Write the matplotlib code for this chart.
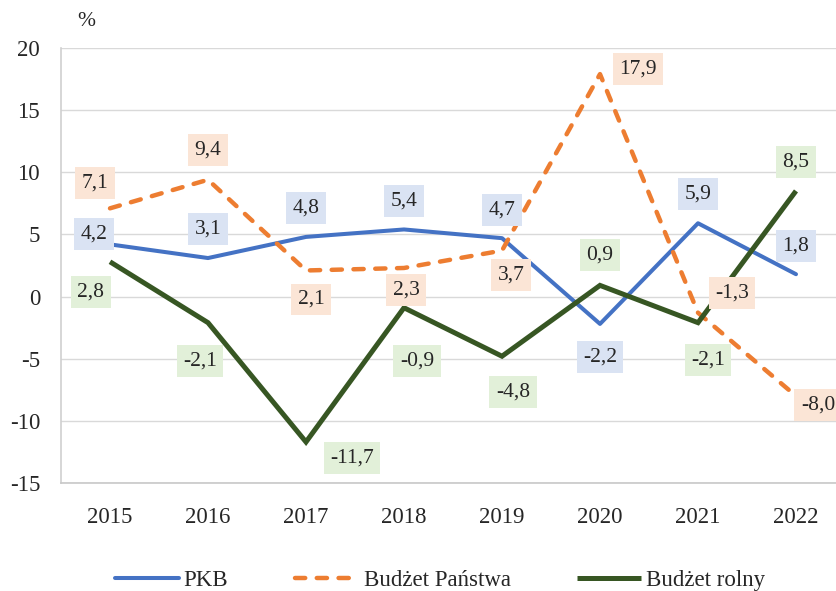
import matplotlib
matplotlib.use("Agg")
import matplotlib.pyplot as plt
from matplotlib.ticker import FuncFormatter

years = ["2015", "2016", "2017", "2018", "2019", "2020", "2021", "2022"]
pkb = [4.2, 3.1, 4.8, 5.4, 4.7, -2.2, 5.9, 1.8]
budzet_panstwa = [7.1, 9.4, 2.1, 2.3, 3.7, 17.9, -1.3, -8.0]
budzet_rolny = [2.8, -2.1, -11.7, -0.9, -4.8, 0.9, -2.1, 8.5]
series_names = ["PKB", "Budżet Państwa", "Budżet rolny"]

# label offsets in pixels (dx right, dy down)
off_pkb = [(-16, -10), (0, -29), (0, -29), (0, -28), (0, -28), (0, 33), (0, -29), (0, -28)]
off_bp = [(-15, -25), (0, -30), (5, 29), (2, 22), (9, 24), (38, -5), (34, -20), (22, 9)]
off_br = [(-19, 30), (-8, 38), (46, 16), (13, 53), (11, 36), (0, -30), (10, 37), (0, -29)]

plt.rcParams['font.family'] = ['Liberation Serif', 'DejaVu Serif']

W, H = 837, 591
fig = plt.figure(figsize=(W / 100, H / 100), dpi=100)
ax = fig.add_axes([61 / W, (H - 483) / H, 784 / W, 435 / H])

x = list(range(len(years)))
c_blue, c_orange, c_green = "#4472C4", "#ED7D31", "#375623"
bg_blue, bg_orange, bg_green = "#DAE3F3", "#FBE5D6", "#E2F0D9"

l1, = ax.plot(x, pkb, color=c_blue, lw=2.9, solid_capstyle='round', solid_joinstyle='round', zorder=3)
l2, = ax.plot(x, budzet_panstwa, color=c_orange, lw=3.2, dashes=(2.3, 2.6),
              dash_capstyle='round', solid_joinstyle='round', zorder=3)
l3, = ax.plot(x, budzet_rolny, color=c_green, lw=3.6, solid_capstyle='butt', solid_joinstyle='miter', zorder=3)

def fmt(v):
    return f"{v:.1f}".replace(".", ",")

for vals, offs, bg in [(pkb, off_pkb, bg_blue), (budzet_panstwa, off_bp, bg_orange),
                       (budzet_rolny, off_br, bg_green)]:
    for xi, v, (dx, dy) in zip(x, vals, offs):
        ax.annotate(fmt(v), (xi, v), xytext=(dx, -dy), textcoords='offset pixels',
                    ha='center', va='center', fontsize=15.5, color='#262626',
                    bbox=dict(boxstyle='square,pad=0.3', fc=bg, ec='none'),
                    zorder=5, annotation_clip=False)

ax.set_xlim(-0.5, 7.5)
ax.set_ylim(-15, 20)
ax.set_yticks(range(-15, 21, 5))
ax.yaxis.set_major_formatter(FuncFormatter(lambda v, p: f"{int(v)}".replace("\u2212", "-")))
ax.set_xticks(x)
ax.set_xticklabels(years)
ax.tick_params(axis='both', length=0, labelsize=16.5, colors='#262626')
ax.tick_params(axis='y', pad=15)
ax.tick_params(axis='x', pad=17)
ax.grid(axis='y', color='#D9D9D9', lw=1)
ax.set_axisbelow(True)
for s in ['top', 'right']:
    ax.spines[s].set_visible(False)
ax.spines['left'].set_color('#D0D0D0')
ax.spines['bottom'].set_color('#C8C8C8')
ax.spines['left'].set_linewidth(1.2)
ax.spines['bottom'].set_linewidth(1.2)

fig.text(86 / W, 1 - 22 / H, "%", ha='center', va='center', fontsize=15.5, color='#262626')

leg = fig.legend([l1, l2, l3], series_names, loc='center', bbox_to_anchor=(440 / W, 1 - 580 / H),
                 ncol=3, frameon=False, fontsize=16.5, handlelength=2.8, handletextpad=0.2,
                 columnspacing=2.9)
for t in leg.get_texts():
    t.set_color('#262626')

fig.savefig("out.png", dpi=100)
